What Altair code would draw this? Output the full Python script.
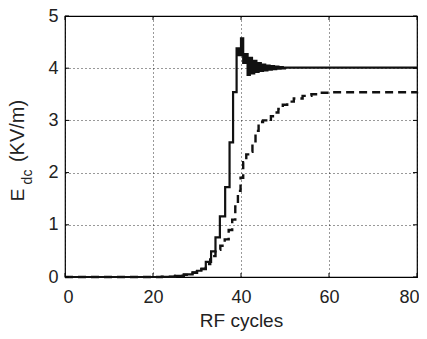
import altair as alt
import pandas as pd

# Solid curve (step values starting at each x)
solid_x = [0, 22, 25, 27, 29, 30, 31, 32, 33.2, 34.2, 35.2, 36.4, 37.4, 38.2, 39.0,
           39.5, 40.0, 40.5, 41.0, 41.5, 42.0, 42.5, 43.0, 43.5, 44.0, 44.5, 45.0,
           45.5, 46.0, 46.5, 47.0, 47.5, 48.0, 48.5, 49.0, 49.5, 50.0, 80.0]
solid_y = [0.0, 0.005, 0.02, 0.05, 0.09, 0.12, 0.16, 0.29, 0.49, 0.76, 1.16, 1.72, 2.58, 3.54, 4.38,
           4.25, 4.57, 4.1, 4.27, 3.87, 4.2, 3.9, 4.14, 3.93, 4.1, 3.95, 4.07,
           3.96, 4.05, 3.97, 4.04, 3.98, 4.03, 3.99, 4.02, 3.995, 4.01, 4.01]

# Dashed curve
dashed_x = [0, 22, 25, 27, 29, 30, 31, 32, 33, 34.2, 35.3, 36.3, 37.2, 38.0, 38.7, 39.3,
            39.9, 40.5, 41.2, 42.0, 42.6, 43.3, 44.0, 45.0, 46.0, 46.8, 47.6, 48.5, 49.5,
            50.5, 52.0, 54.0, 56.0, 58.0, 60.0, 80.0]
dashed_y = [0.0, 0.005, 0.02, 0.04, 0.08, 0.11, 0.15, 0.25, 0.4, 0.52, 0.6, 0.72, 0.9, 1.1, 1.35, 1.65,
            1.9, 2.2, 2.35, 2.4, 2.6, 2.8, 2.97, 3.0, 2.98, 3.08, 3.15, 3.22, 3.3,
            3.36, 3.42, 3.47, 3.5, 3.53, 3.54, 3.55]

x_ticks = [0, 20, 40, 60, 80]
y_ticks = [0, 1, 2, 3, 4, 5]

W, H = 352, 261
FONT = "Liberation Sans"

solid_df = pd.DataFrame({"x": solid_x, "y": solid_y})
dashed_df = pd.DataFrame({"x": dashed_x, "y": dashed_y})

xscale = alt.Scale(domain=[0, 80], nice=False)
yscale = alt.Scale(domain=[0, 5], nice=False)

xaxis = alt.Axis(values=x_ticks, title="RF cycles", grid=True, gridDash=[1, 3], gridColor="#000",
                 gridOpacity=0.8, ticks=False, labelPadding=11, titlePadding=5,
                 domain=False, labelFlush=True, labelFlushOffset=2)
yaxis = alt.Axis(values=y_ticks, title=None, grid=True, gridDash=[1, 3], gridColor="#000",
                 gridOpacity=0.8, ticks=False, labelPadding=7, domain=False, labelFlush=False)

base_solid = alt.Chart(solid_df).mark_line(interpolate="step-after", color="#111",
                                           strokeWidth=2.2).encode(
    x=alt.X("x:Q", scale=xscale, axis=xaxis),
    y=alt.Y("y:Q", scale=yscale, axis=yaxis),
)

dashed = alt.Chart(dashed_df).mark_line(interpolate="step-after", color="#111",
                                        strokeWidth=2.4, strokeDash=[8, 5]).encode(
    x=alt.X("x:Q", scale=xscale),
    y=alt.Y("y:Q", scale=yscale),
)

# inner tick marks (MATLAB style) on all four sides
xt_df = pd.DataFrame({"v": x_ticks})
yt_df = pd.DataFrame({"v": y_ticks})
xt_bottom = alt.Chart(xt_df).mark_rule(color="#000", strokeWidth=1).encode(
    x=alt.X("v:Q", scale=xscale), y=alt.value(H), y2=alt.value(H - 4))
xt_top = alt.Chart(xt_df).mark_rule(color="#000", strokeWidth=1).encode(
    x=alt.X("v:Q", scale=xscale), y=alt.value(0), y2=alt.value(4))
yt_left = alt.Chart(yt_df).mark_rule(color="#000", strokeWidth=1).encode(
    y=alt.Y("v:Q", scale=yscale), x=alt.value(0), x2=alt.value(4))
yt_right = alt.Chart(yt_df).mark_rule(color="#000", strokeWidth=1).encode(
    y=alt.Y("v:Q", scale=yscale), x=alt.value(W), x2=alt.value(W - 4))

# Y title with subscript, built from text marks
title_df = pd.DataFrame({"t": ["E"]})
t_E = alt.Chart(title_df).mark_text(text="E", font=FONT, fontSize=19, angle=270,
                                    align="center", baseline="middle", color="#222").encode(
    x=alt.value(-47), y=alt.value(179))
t_dc = alt.Chart(title_df).mark_text(text="dc", font=FONT, fontSize=14, angle=270,
                                     align="center", baseline="middle", color="#222").encode(
    x=alt.value(-37), y=alt.value(161))
t_unit = alt.Chart(title_df).mark_text(text="(KV/m)", font=FONT, fontSize=20, angle=270,
                                       align="center", baseline="middle", color="#222").encode(
    x=alt.value(-47), y=alt.value(115))

chart = alt.layer(base_solid, dashed, xt_bottom, xt_top, yt_left, yt_right,
                  t_E, t_dc, t_unit).properties(
    width=W, height=H,
    padding={"left": 57, "top": 8, "right": 2, "bottom": 54},
    autosize=alt.AutoSizeParams(type="none"),
    background="white",
).configure_view(stroke="#000", strokeWidth=1.2).configure_axis(
    labelFont=FONT, labelFontSize=18, labelColor="#222",
    titleFont=FONT, titleFontSize=19, titleColor="#222", titleFontWeight="normal",
)

chart.save("out.html", embed_options={"renderer": "svg", "actions": False})
